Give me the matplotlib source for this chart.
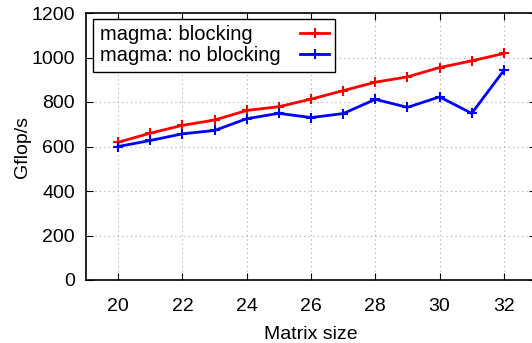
import numpy as np
import matplotlib
matplotlib.use("Agg")
import matplotlib.pyplot as plt

plt.rcParams["font.family"] = ["Liberation Sans", "DejaVu Sans"]

# matrix size vs. performance
sizes = [20, 21, 22, 23, 24, 25, 26, 27, 28, 29, 30, 31, 32]
blocking = [619, 660, 695, 719, 762, 779, 813, 851, 889, 913, 955, 985, 1018]
no_blocking = [600, 627, 657, 672, 725, 749, 730, 748, 812, 776, 823, 749, 942]

x_ticks = [20, 22, 24, 26, 28, 30, 32]
y_ticks = [0, 200, 400, 600, 800, 1000, 1200]

fig = plt.figure(figsize=(5.32, 3.43), dpi=100)
ax = fig.add_axes([86 / 532, 63 / 343, 450 / 532, 267 / 343])

ax.plot(sizes, blocking, "-+", color="#ff0000", lw=2, ms=7, mew=1.5,
        label="magma: blocking")
ax.plot(sizes, no_blocking, "-+", color="#0000ff", lw=2, ms=7, mew=1.5,
        label="magma: no blocking")

ax.set_xlim(19, 33)
ax.set_ylim(0, 1200)
ax.set_xticks(x_ticks)
ax.set_yticks(y_ticks)
ax.tick_params(direction="in", length=5, width=0.8, top=True, right=True,
               labelsize=14, colors="black")
ax.tick_params(axis="x", pad=13)
ax.tick_params(axis="y", pad=8)
ax.grid(True, linestyle=(0, (1, 3)), color="#aaaaaa", lw=0.8)
ax.set_axisbelow(True)
for s in ax.spines.values():
    s.set_linewidth(1.2)

ax.set_xlabel("Matrix size", fontsize=14, labelpad=8)
ax.set_ylabel("Gflop/s", fontsize=14, labelpad=0)

leg = ax.legend(loc="upper left", bbox_to_anchor=(0.016, 0.979),
                borderaxespad=0, markerfirst=False, fancybox=False,
                edgecolor="black", framealpha=1, fontsize=14.5,
                handlelength=1.4, handletextpad=1.0, labelspacing=0.12,
                borderpad=0.32)
leg.get_frame().set_linewidth(1.0)

# left-align the labels while keeping the line samples in one column
fig.canvas.draw()
r = fig.canvas.get_renderer()
widths = [t.get_window_extent(r).width for t in leg.get_texts()]
column = leg._legend_handle_box.get_children()[0]
for item, w in zip(column.get_children(), widths):
    item.sep += (max(widths) - w) * 72 / fig.dpi

fig.savefig("out.png", dpi=100)
